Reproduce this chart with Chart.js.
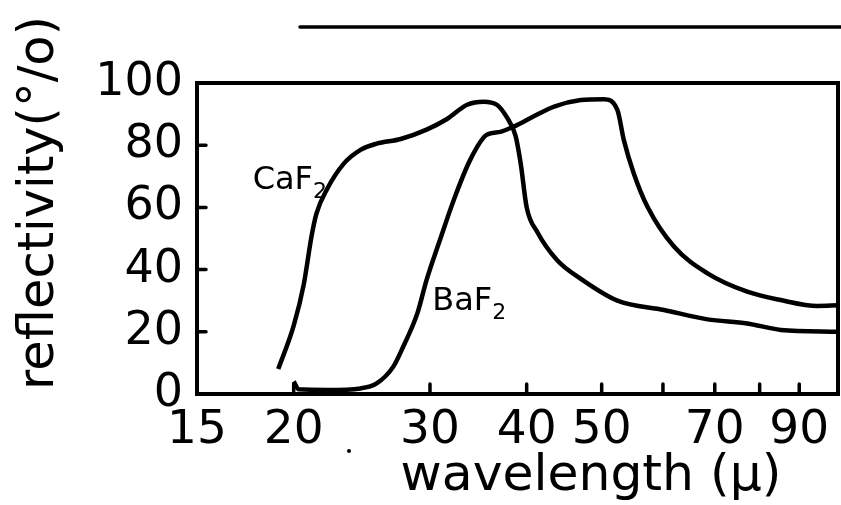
<!DOCTYPE html>
<html>
<head>
<meta charset="utf-8">
<script src="https://cdn.jsdelivr.net/npm/chart.js@4.4.1/dist/chart.umd.min.js"></script>
<style>
  html, body { margin: 0; padding: 0; background: #fff; }
  #wrap { width: 841px; height: 505px; }
</style>
</head>
<body>
<div id="wrap"><canvas id="myChart" width="841" height="505"></canvas></div>
<script>
// wavelength in microns, reflectivity in %
const caf2Wavelength = [19.1, 20.0, 20.6, 21.1, 21.4, 22.1, 23.2, 24.4, 25.6, 27.5, 29.7, 31.6, 33.5, 35.2, 36.6, 37.7, 38.7, 39.3, 40.0, 41.3, 43.8, 47.0, 52.4, 60.2, 68.5, 77.1, 85.2, 101];
const caf2Reflectivity = [8, 22, 35, 51, 58, 66, 74, 78.5, 80.5, 82, 85, 88.5, 93, 94, 93, 89, 83, 74, 60, 52, 43, 37, 30, 27, 24, 22.7, 20.6, 20];

const baf2Wavelength = [20.0, 20.3, 22.1, 24.4, 25.6, 26.9, 27.7, 28.9, 29.7, 30.9, 32.2, 33.8, 35.5, 37.0, 38.5, 40.8, 43.4, 47.0, 50.3, 52.4, 53.4, 55.0, 57.3, 62.0, 68.5, 77.1, 85.2, 95.0, 101];
const baf2Reflectivity = [4, 1.5, 1.3, 1.8, 3.4, 8.8, 15.2, 26, 36.7, 49.5, 62.4, 75.2, 83.3, 84.3, 86, 89.2, 92.4, 94.5, 94.8, 91.3, 81.7, 71, 60.2, 47.4, 38.8, 32.9, 30.2, 28.3, 28.5];

const xTickValues = [15, 20, 30, 40, 50, 60, 70, 80, 90];
const xTickLabels = ['15', '20', '30', '40', '50', '', '70', '', '90'];
const yTickValues = [0, 20, 40, 60, 80, 100];

const xTitle = 'wavelength (\u03bc)';
const yTitle = 'reflectivity(\u00b0/o)';

const FONT = '"DejaVu Sans", sans-serif';

function toPoints(xs, ys) {
  return xs.map((x, i) => ({ x: x, y: ys[i] }));
}

function fitFont(ctx, text, width) {
  ctx.font = '100px ' + FONT;
  return 100 * width / ctx.measureText(text).width;
}

// box, inner ticks, titles and curve labels
const decorations = {
  id: 'decorations',
  afterDraw(chart) {
    const ctx = chart.ctx;
    const a = chart.chartArea;
    const x = chart.scales.x;
    const y = chart.scales.y;
    ctx.save();
    ctx.strokeStyle = '#000';
    ctx.fillStyle = '#000';
    ctx.lineCap = 'round';

    ctx.lineWidth = 4;
    ctx.strokeRect(a.left, a.top, a.right - a.left, a.bottom - a.top);

    ctx.lineWidth = 3.5;
    ctx.beginPath();
    xTickValues.slice(1).forEach(v => {
      const px = x.getPixelForValue(v);
      ctx.moveTo(px, a.bottom);
      ctx.lineTo(px, a.bottom - 10);
    });
    yTickValues.slice(1, -1).forEach(v => {
      const py = y.getPixelForValue(v);
      ctx.moveTo(a.left, py);
      ctx.lineTo(a.left + 9, py);
    });
    ctx.stroke();

    // rule above the plot
    ctx.lineWidth = 3.5;
    ctx.beginPath();
    ctx.moveTo(300, 27);
    ctx.lineTo(841, 27);
    ctx.stroke();

    // stray dot under the axis
    ctx.beginPath();
    ctx.arc(349, 451, 2, 0, Math.PI * 2);
    ctx.fill();

    // axis titles
    ctx.textAlign = 'center';
    ctx.textBaseline = 'alphabetic';
    let size = fitFont(ctx, xTitle, 381);
    ctx.font = size + 'px ' + FONT;
    ctx.fillText(xTitle, 591, 490);

    size = fitFont(ctx, yTitle, 374);
    ctx.font = size + 'px ' + FONT;
    ctx.translate(53, 203);
    ctx.rotate(-Math.PI / 2);
    ctx.fillText(yTitle, 0, 0);
    ctx.setTransform(1, 0, 0, 1, 0, 0);

    // curve labels
    ctx.textAlign = 'left';
    const label = (name, xv, yv) => {
      const px = x.getPixelForValue(xv);
      const py = y.getPixelForValue(yv);
      ctx.font = '32px ' + FONT;
      ctx.fillText(name, px, py);
      const w = ctx.measureText(name).width;
      ctx.font = '22px ' + FONT;
      ctx.fillText('2', px + w, py + 9);
    };
    label('CaF', 17.7, 66);
    label('BaF', 30.2, 27);
    ctx.restore();
  }
};

const ctx = document.getElementById('myChart').getContext('2d');

new Chart(ctx, {
  type: 'line',
  data: {
    datasets: [{
      label: 'CaF2',
      data: toPoints(caf2Wavelength, caf2Reflectivity),
      borderColor: '#000',
      borderWidth: 4.5,
      pointRadius: 0,
      cubicInterpolationMode: 'monotone'
    }, {
      label: 'BaF2',
      data: toPoints(baf2Wavelength, baf2Reflectivity),
      borderColor: '#000',
      borderWidth: 4.5,
      pointRadius: 0,
      cubicInterpolationMode: 'monotone'
    }]
  },
  options: {
    responsive: false,
    animation: false,
    layout: { padding: { top: 83, right: 3, left: 0, bottom: 0 } },
    plugins: {
      legend: { display: false },
      tooltip: { enabled: false }
    },
    scales: {
      x: {
        type: 'logarithmic',
        min: 15,
        max: 101,
        afterBuildTicks: s => { s.ticks = xTickValues.map(v => ({ value: v })); },
        afterFit: s => { s.height = 111; },
        grid: { display: false, drawTicks: false },
        border: { display: false },
        ticks: {
          autoSkip: false,
          maxRotation: 0,
          padding: 9,
          color: '#000',
          font: { family: FONT, size: 47 },
          callback: (v, i) => xTickLabels[i]
        }
      },
      y: {
        min: 0,
        max: 100,
        afterBuildTicks: s => { s.ticks = yTickValues.map(v => ({ value: v })); },
        afterFit: s => { s.width = 197; },
        grid: { display: false, drawTicks: false },
        border: { display: false },
        ticks: {
          padding: 14,
          color: '#000',
          font: { family: FONT, size: 46 }
        }
      }
    }
  },
  plugins: [decorations]
});
</script>
</body>
</html>
